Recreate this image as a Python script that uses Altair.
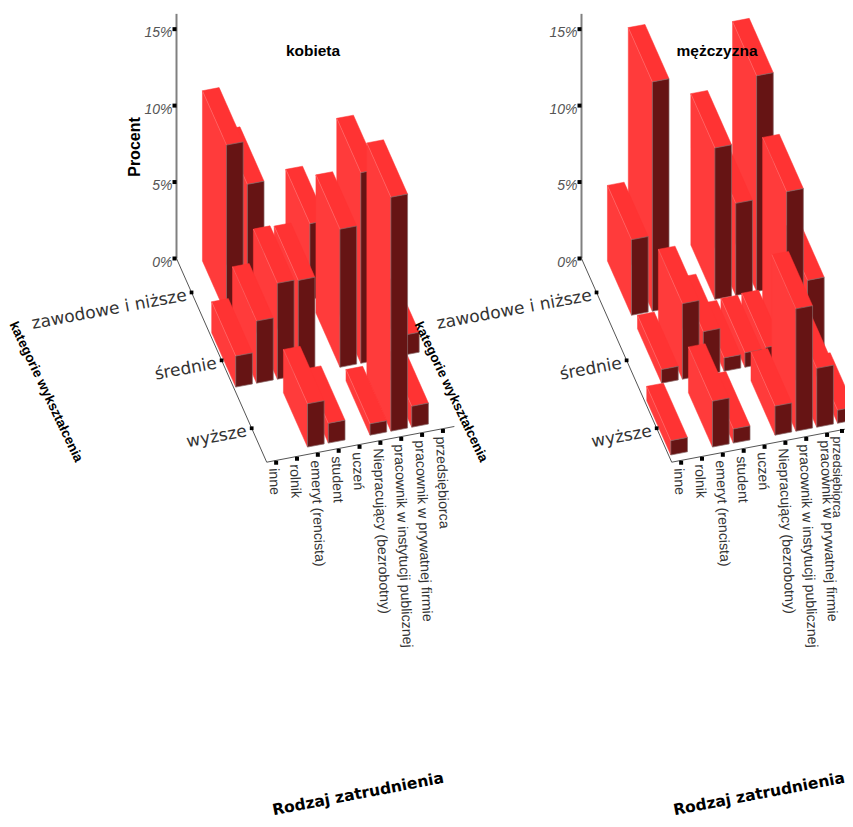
import altair as alt
import pandas as pd

JOBS = ["inne", "rolnik", "emeryt (rencista)", "student", "uczeń", "Niepracujący (bezrobotny)",
        "pracownik w instytucji publicznej", "pracownik w prywatnej firmie", "przedsiębiorca"]
EDU = ["zawodowe i niższe", "średnie", "wyższe"]
PCT = [0, 5, 10, 15]

K_ZAW = [0, 11.13, 8.3, 0, 0, 4.95, 0, 0, 0]
K_SRE = [2.03, 4.06, 6.27, 6.2, 0, 9.03, 12.47, 0, 1.3]
K_WYZ = [0, 0, 2.83, 1.29, 0, 0.74, 15.3, 1.37, 0]
M_ZAW = [0, 4.94, 15.0, 0, 0, 9.9, 6.02, 14.1, 0]
M_SRE = [0, 0.89, 4.94, 2.85, 0.87, 0.95, 1.03, 10.96, 4.9]
M_WYZ = [0.94, 0, 3.0, 0.92, 0, 1.9, 8.0, 3.85, 0.85]

PANELS = [("kobieta", [K_ZAW, K_SRE, K_WYZ], 0.0), ("mężczyzna", [M_ZAW, M_SRE, M_WYZ], 405.0)]

# oblique projection: job index, education index, percent -> page position
OX, OY = 176.5, 258.5
WX, WY = 20.85, -3.97
DX, DY = 30.07, 67.9
PX = 15.29
GAP = 0.1
RIGHT_EDGE = 845
BOTTOM_EDGE = 819


def proj(off, c, e, v=0.0):
    return (OX + off + WX * c + DX * e, OY + WY * c + DY * e - PX * v)


SIDE, TOP, FRONT = "#ff3b3b", "#ff3333", "#661414"
rows = []
pid = 0


def poly(pts, fill, stroke, sw):
    global pid
    pid += 1
    for i, (x, y) in enumerate(pts):
        rows.append(dict(x=x, y=y, i=i, pid=pid, fill=fill, stroke=stroke, sw=sw))


for name, grid, off in PANELS:
    for e in range(3):
        for c in range(8, -1, -1):
            v = grid[e][c]
            if v <= 0:
                continue
            c0, c1 = c + GAP, c + 1 - GAP
            e0, e1 = e + GAP, e + 1 - GAP
            P = lambda a, b, h: proj(off, a, b, h)
            s = [P(c0, e0, 0), P(c0, e1, 0), P(c0, e1, v), P(c0, e0, v), P(c0, e0, 0)]
            t = [P(c0, e0, v), P(c0, e1, v), P(c1, e1, v), P(c1, e0, v), P(c0, e0, v)]
            f = [P(c0, e1, 0), P(c1, e1, 0), P(c1, e1, v), P(c0, e1, v), P(c0, e1, 0)]
            poly(s, SIDE, SIDE, 0.5)
            poly(t, TOP, TOP, 0.5)
            poly(f, FRONT, "#8a6a6a", 0.7)
            poly([P(c0, e0, v), P(c0, e1, v)], TOP, "#ff7f7f", 0.5)

df = pd.DataFrame(rows)

xs = alt.Scale(domain=[8, RIGHT_EDGE], range=[0, RIGHT_EDGE - 8], nice=False, zero=False)
ys = alt.Scale(domain=[8, BOTTOM_EDGE], range=[0, BOTTOM_EDGE - 8], nice=False, zero=False)
X = alt.X("x:Q", scale=xs, axis=None)
Y = alt.Y("y:Q", scale=ys, axis=None)

bars = alt.Chart(df).mark_line(filled=False, strokeJoin="miter").encode(
    x=X, y=Y, order=alt.Order("i:Q"), detail="pid:N",
    fill=alt.Fill("fill:N", scale=None, legend=None),
    stroke=alt.Stroke("stroke:N", scale=None, legend=None),
    strokeWidth=alt.StrokeWidth("sw:Q", scale=None, legend=None),
)

# axes
axis_rows, tick_rows = [], []
for name, grid, off in PANELS:
    for i, p in enumerate([proj(off, 0, 0, 0), proj(off, 0, 0, 16)]):
        axis_rows.append(dict(x=p[0], y=p[1], i=i, a=f"{name}v", col="#808080", w=2))
    for i, p in enumerate([proj(off, 0, 0), proj(off, 0, 3), proj(off, 9, 3)]):
        axis_rows.append(dict(x=p[0], y=p[1], i=i, a=f"{name}f", col="#555555", w=1))
    for v in PCT:
        p = proj(off, 0, 0, v)
        tick_rows.append(dict(x=p[0] - 2, y=p[1], s=16))
    for e in range(3):
        p = proj(off, 0, e + 0.5)
        tick_rows.append(dict(x=p[0], y=p[1], s=14))
    for c in range(9):
        p = proj(off, c + 0.5, 3)
        tick_rows.append(dict(x=min(p[0] - 1, RIGHT_EDGE - 3), y=p[1] + 2.5, s=16))

axes = alt.Chart(pd.DataFrame(axis_rows)).mark_line().encode(
    x=X, y=Y, order=alt.Order("i:Q"), detail="a:N",
    stroke=alt.Stroke("col:N", scale=None, legend=None),
    strokeWidth=alt.StrokeWidth("w:Q", scale=None, legend=None),
)
ticks = alt.Chart(pd.DataFrame(tick_rows)).mark_square(color="black", opacity=1).encode(
    x=X, y=Y, size=alt.Size("s:Q", scale=None, legend=None)
)

text_rows = {"title": [], "pct": [], "edu": [], "job": [], "job_last": [], "axt": [], "ytitle": []}
for name, grid, off in PANELS:
    text_rows["title"].append(dict(x=313 + off - (1 if off else 0), y=51, t=name, a=0))
    for v in PCT:
        p = proj(off, 0, 0, v)
        text_rows["pct"].append(dict(x=p[0] - 4, y=p[1] + 4, t=f"{v}%", a=0))
    for e, lab in enumerate(EDU):
        p = proj(off, 0, e + 0.5)
        text_rows["edu"].append(dict(x=p[0] - 5, y=p[1] + 3, t=lab, a=349.5))
    for c, lab in enumerate(JOBS):
        p = proj(off, c + 0.5, 3)
        x0 = p[0] - 4
        if x0 > RIGHT_EDGE - 9:  # keep the last label inside the page
            text_rows["job_last"].append(dict(x=RIGHT_EDGE - 8, y=p[1] + 8, t=lab, a=90))
        else:
            text_rows["job"].append(dict(x=x0, y=p[1] + 8, t=lab, a=87.5))
    text_rows["axt"].append(dict(x=min(358 + off, RIGHT_EDGE - 86), y=794, t="Rodzaj zatrudnienia", a=349.2))
    text_rows["ytitle"].append(dict(x=46 + off, y=392, t="kategorie wykształcenia", a=64.5))
ptitle = [dict(x=135, y=147, t="Procent", a=270)]


def txt(data, **kw):
    return alt.Chart(pd.DataFrame(data)).mark_text(**kw).encode(
        x=X, y=Y, text="t:N", angle=alt.Angle("a:Q", scale=None)
    )


F = "Liberation Sans"
layers = [
    bars, axes, ticks,
    txt(text_rows["title"], font=F, fontSize=15.5, fontWeight="bold", color="black", align="center", baseline="middle"),
    txt(text_rows["pct"], font=F, fontSize=14, fontStyle="italic", color="#555555", align="right", baseline="middle"),
    txt(text_rows["edu"], font="DejaVu Sans", fontSize=17, color="#333333", align="right", baseline="middle"),
    txt(text_rows["job"], font=F, fontSize=14.2, color="#333333", align="left", baseline="middle"),
    txt(text_rows["job_last"], font=F, fontSize=12.5, color="#333333", align="left", baseline="middle"),
    txt(text_rows["axt"], font="DejaVu Sans", fontSize=15.5, fontWeight="bold", color="black", align="center", baseline="middle"),
    txt(text_rows["ytitle"], font=F, fontSize=13.5, fontWeight="bold", color="black", align="center", baseline="middle"),
    txt(ptitle, font=F, fontSize=16, fontWeight="bold", color="black", align="center", baseline="middle"),
]

chart = alt.layer(*layers).properties(
    width=RIGHT_EDGE - 8, height=BOTTOM_EDGE - 8, padding=0,
    autosize=alt.AutoSizeParams(type="none"),
).configure_view(stroke=None)

chart.save("out.html", embed_options={"renderer": "svg", "actions": False})
